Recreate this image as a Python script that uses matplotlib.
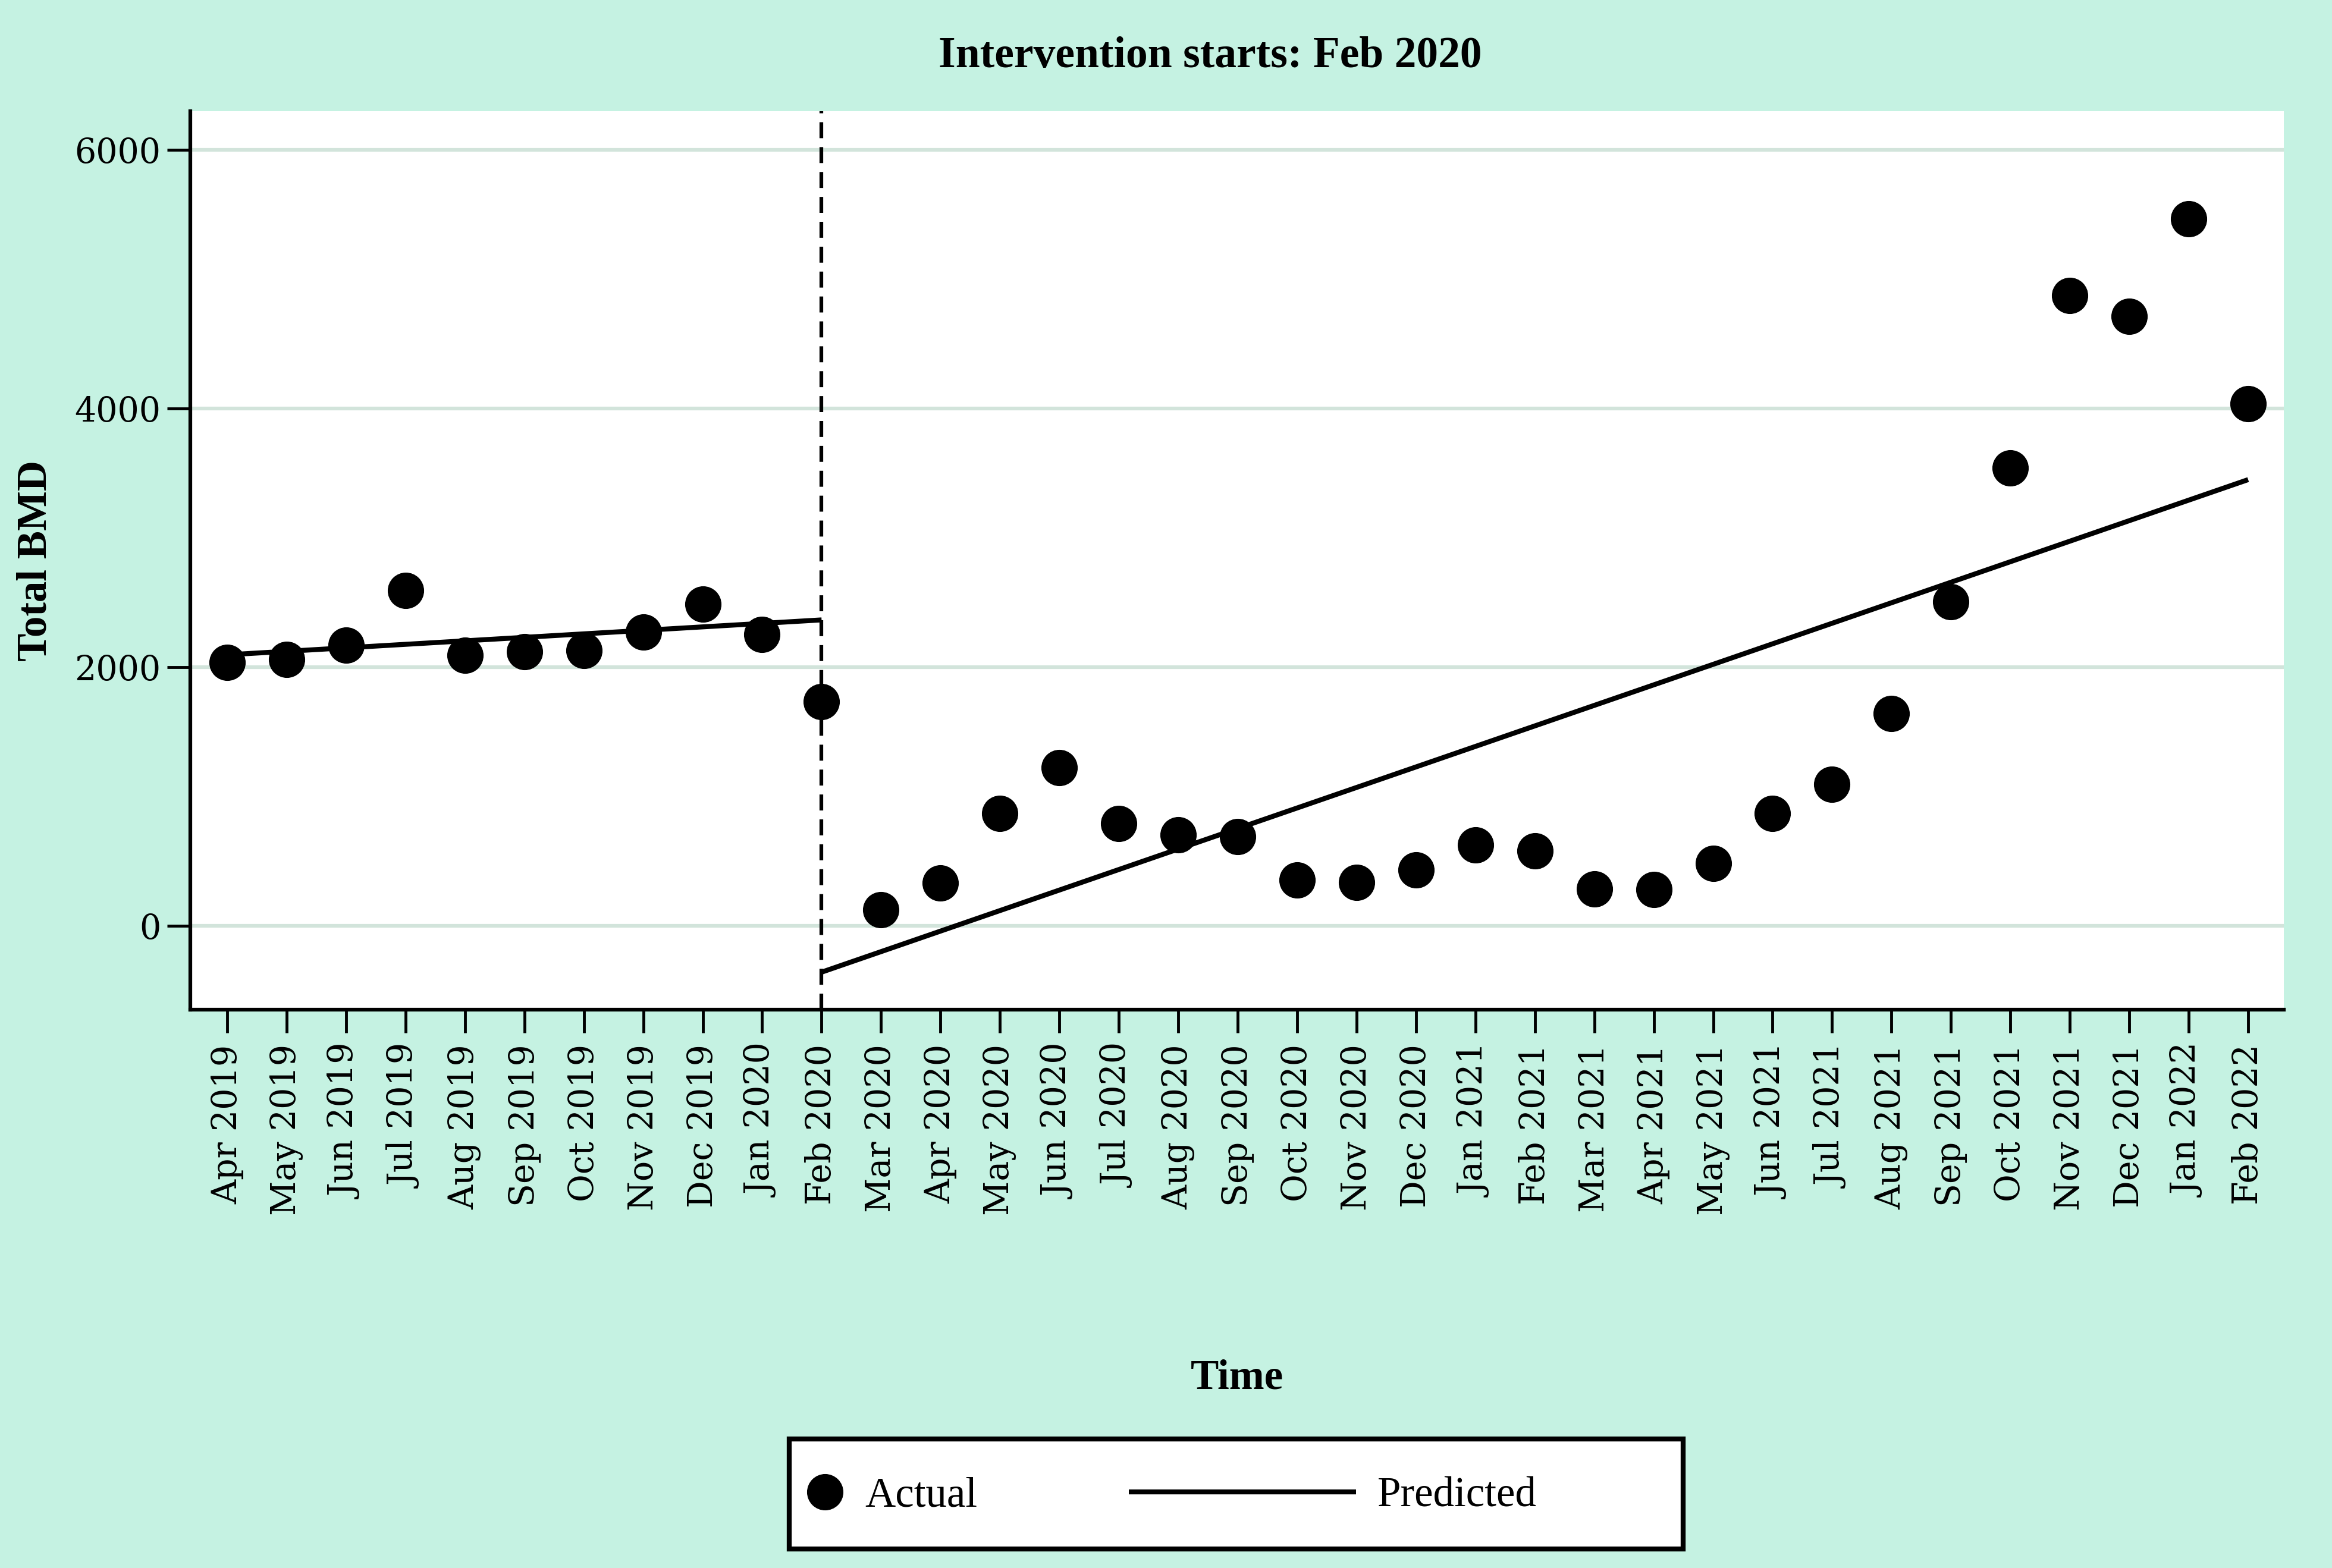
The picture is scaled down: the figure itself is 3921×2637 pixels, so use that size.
import matplotlib
matplotlib.use("Agg")
import matplotlib.pyplot as plt
from matplotlib.patches import Rectangle
from matplotlib.legend_handler import HandlerLine2D

# monthly data
months = ['Apr 2019', 'May 2019', 'Jun 2019', 'Jul 2019', 'Aug 2019', 'Sep 2019',
          'Oct 2019', 'Nov 2019', 'Dec 2019', 'Jan 2020', 'Feb 2020', 'Mar 2020',
          'Apr 2020', 'May 2020', 'Jun 2020', 'Jul 2020', 'Aug 2020', 'Sep 2020',
          'Oct 2020', 'Nov 2020', 'Dec 2020', 'Jan 2021', 'Feb 2021', 'Mar 2021',
          'Apr 2021', 'May 2021', 'Jun 2021', 'Jul 2021', 'Aug 2021', 'Sep 2021',
          'Oct 2021', 'Nov 2021', 'Dec 2021', 'Jan 2022', 'Feb 2022']
actual = [2035, 2060, 2170, 2595, 2090, 2120, 2128, 2272, 2485, 2253, 1733, 125,
          328, 866, 1220, 788, 700, 690, 354, 333, 432, 622, 580, 282, 281, 482,
          870, 1092, 1641, 2505, 3540, 4872, 4712, 5468, 4036]

# fitted trend (start/end of each segment)
pre_x = [0, 10]
pre_pred = [2095, 2365]
post_x = [10, 34]
post_pred = [-360, 3450]

intervention = 10  # Feb 2020

BG = '#C5F2E2'
GRID = '#D2E4DB'
W, H = 3921, 2637

fig = plt.figure(figsize=(W / 100, H / 100), dpi=100, facecolor=BG)
ax = fig.add_axes([320 / W, 1 - 1698 / H, (3840 - 320) / W, (1698 - 187) / H])
ax.set_facecolor('white')

x = list(range(len(months)))

for yv in [0, 2000, 4000, 6000]:
    ax.axhline(yv, color=GRID, lw=4.5, zorder=0)

ax.axvline(intervention, color='black', lw=4.5, ls=(0, (4.3, 2.4)), zorder=2)

ax.plot(pre_x, pre_pred, color='black', lw=6, solid_capstyle='butt', zorder=3)
pred_line, = ax.plot(post_x, post_pred, color='black', lw=6,
                     solid_capstyle='butt', zorder=3, label='Predicted')
act_line, = ax.plot(x, actual, 'o', ls='none', color='black', ms=43,
                    zorder=4, label='Actual')

ax.set_xlim(-0.62, 34.6)
ax.set_ylim(-650, 6300)

ax.set_yticks([0, 2000, 4000, 6000])
ax.set_yticklabels(['0', '2000', '4000', '6000'])
ax.set_xticks(x)
ax.set_xticklabels(months, rotation=90)

for s in ['top', 'right']:
    ax.spines[s].set_visible(False)
for s in ['left', 'bottom']:
    ax.spines[s].set_linewidth(4.5)

ax.tick_params(axis='both', length=28, width=3.5, color='black')
ax.tick_params(axis='x', pad=14)
ax.tick_params(axis='y', pad=8)
for lab in ax.get_xticklabels() + ax.get_yticklabels():
    lab.set_fontfamily('DejaVu Serif')
    lab.set_fontsize(41)

bold = dict(family='Liberation Serif', weight='bold', size=51)
ax.set_ylabel('Total BMD', **bold)
ax.yaxis.set_label_coords((92 - 320) / 3520, 0.5)
ax.set_xlabel('Time', va='center', **bold)
ax.xaxis.set_label_coords(0.5, -(2318 - 1698) / 1511)
ax.set_title('Intervention starts: Feb 2020', x=(2035 - 320) / 3520,
             y=(1698 - 103) / 1511, va='center',
             family='Liberation Serif', weight='bold', size=53)


class RightDot(HandlerLine2D):
    # marker sits in the middle of xdata, so shift xdata to the right end
    def get_xdata(self, legend, xdescent, ydescent, width, height, fontsize):
        right = -xdescent + width
        return [right - 46, right], [right - 23]


# legend frame
fig.patches.append(Rectangle((1327 / W, 1 - 2605 / H), (2830 - 1327) / W,
                             (2605 - 2420) / H, transform=fig.transFigure,
                             facecolor='white', edgecolor='black', lw=6,
                             zorder=0))
fig.legend([act_line, pred_line], ['Actual', 'Predicted'],
           handler_map={act_line: RightDot()},
           loc='center left', bbox_to_anchor=(1036 / W, 1 - 2516 / H),
           ncol=2, frameon=False, borderpad=0, borderaxespad=0,
           handlelength=5.4, handletextpad=0.5, columnspacing=3.6,
           prop=dict(family='Liberation Serif', size=51))

fig.savefig('out.png', dpi=100, facecolor=BG)
